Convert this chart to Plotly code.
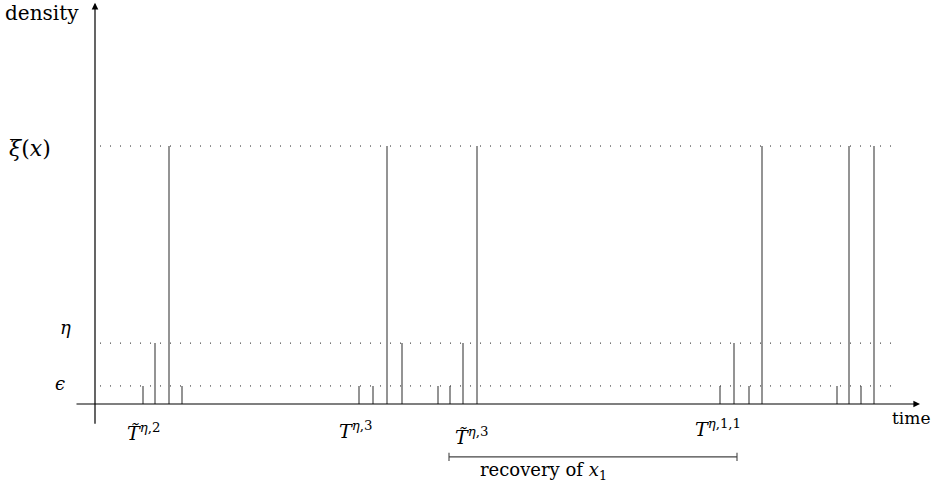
import plotly.graph_objects as go

# ---- data ----
level_names = ["eps", "eta", "xi"]
level_values = [0.7, 2.36, 10.0]          # density levels: epsilon, eta, xi-bar(x)
spike_times = [4.8, 6.0, 7.4, 8.7,
               26.4, 27.8, 29.2, 30.7,
               34.3, 35.5, 36.8, 38.2,
               62.5, 63.9, 65.4, 66.7,
               74.2, 75.4, 76.6, 77.9]
spike_levels = ["eps", "eta", "xi", "eps",
                "eps", "eps", "xi", "eta",
                "eps", "eps", "eta", "xi",
                "eps", "eta", "eps", "xi",
                "eps", "xi", "eps", "xi"]
recovery_start = 35.4
recovery_end = 64.2

lv = dict(zip(level_names, level_values))

FONT = "DejaVu Serif"
INK = "#000000"
LINE = "#3c3c3c"

fig = go.Figure()

# dotted reference levels
dx0, dx1 = 0.5, 79.7
for v in level_values:
    fig.add_trace(go.Scatter(x=[dx0, dx1], y=[v, v], mode="lines",
                             line=dict(color="#222", width=1, dash="1px,9px"),
                             hoverinfo="skip", showlegend=False))

# spikes
xs, ys = [], []
for t, name in zip(spike_times, spike_levels):
    xs += [t, t, None]
    ys += [0, lv[name], None]
fig.add_trace(go.Scatter(x=xs, y=ys, mode="lines",
                         line=dict(color=LINE, width=1.1),
                         hoverinfo="skip", showlegend=False))

# recovery bracket
by = -2.05
tick = 0.16
fig.add_trace(go.Scatter(
    x=[recovery_start, recovery_end, None, recovery_start, recovery_start, None, recovery_end, recovery_end],
    y=[by, by, None, by - tick, by + tick, None, by - tick, by + tick],
    mode="lines", line=dict(color="#444", width=1.1),
    hoverinfo="skip", showlegend=False))

annotations = []
# axes with arrows
annotations.append(dict(x=0, y=15.55, ax=0, ay=-0.82, xref="x", yref="y", axref="x", ayref="y",
                        showarrow=True, arrowhead=2, arrowsize=1.1, arrowwidth=1.2,
                        arrowcolor=INK, text=""))
annotations.append(dict(x=82.5, y=0, ax=-2.0, ay=0, xref="x", yref="y", axref="x", ayref="y",
                        showarrow=True, arrowhead=2, arrowsize=1.1, arrowwidth=1.2,
                        arrowcolor=INK, text=""))

def lab(x, y, text, xanchor="left", size=16):
    annotations.append(dict(x=x, y=y, text=text, showarrow=False, xref="x", yref="y",
                            xanchor=xanchor, yanchor="middle",
                            font=dict(family=FONT, size=size, color=INK)))

lab(-9.2, 15.15, "density", size=20)
lab(-8.8, 9.92, "<i>ξ\u0305</i>(<i>x</i>)", size=22)
lab(-3.0, 2.98, "<i>η</i>", xanchor="center", size=18)
lab(-3.5, 0.80, "<i>ϵ</i>", xanchor="center", size=18)
lab(3.0, -1.09, "<i>T\u0303</i><sup><i>η</i>,2</sup>", size=19)
lab(24.2, -1.0, "<i>T</i><sup><i>η</i>,3</sup>", size=19)
lab(35.8, -1.24, "<i>T\u0303</i><sup><i>η</i>,3</sup>", size=19)
lab(59.8, -0.93, "<i>T</i><sup><i>η</i>,1,1</sup>", size=19)
lab(79.5, -0.54, "time", size=17)
lab(44.8, -2.6, "recovery of <i>x</i><sub>1</sub>", xanchor="center", size=18)

fig.update_layout(
    width=936, height=493,
    margin=dict(l=0, r=0, t=0, b=0),
    paper_bgcolor="white", plot_bgcolor="white",
    xaxis=dict(range=[-9.5, 84.1], visible=False, fixedrange=True),
    yaxis=dict(range=[-3.45, 15.66], visible=False, fixedrange=True),
    annotations=annotations,
    showlegend=False,
)

fig.write_html("out.html")
